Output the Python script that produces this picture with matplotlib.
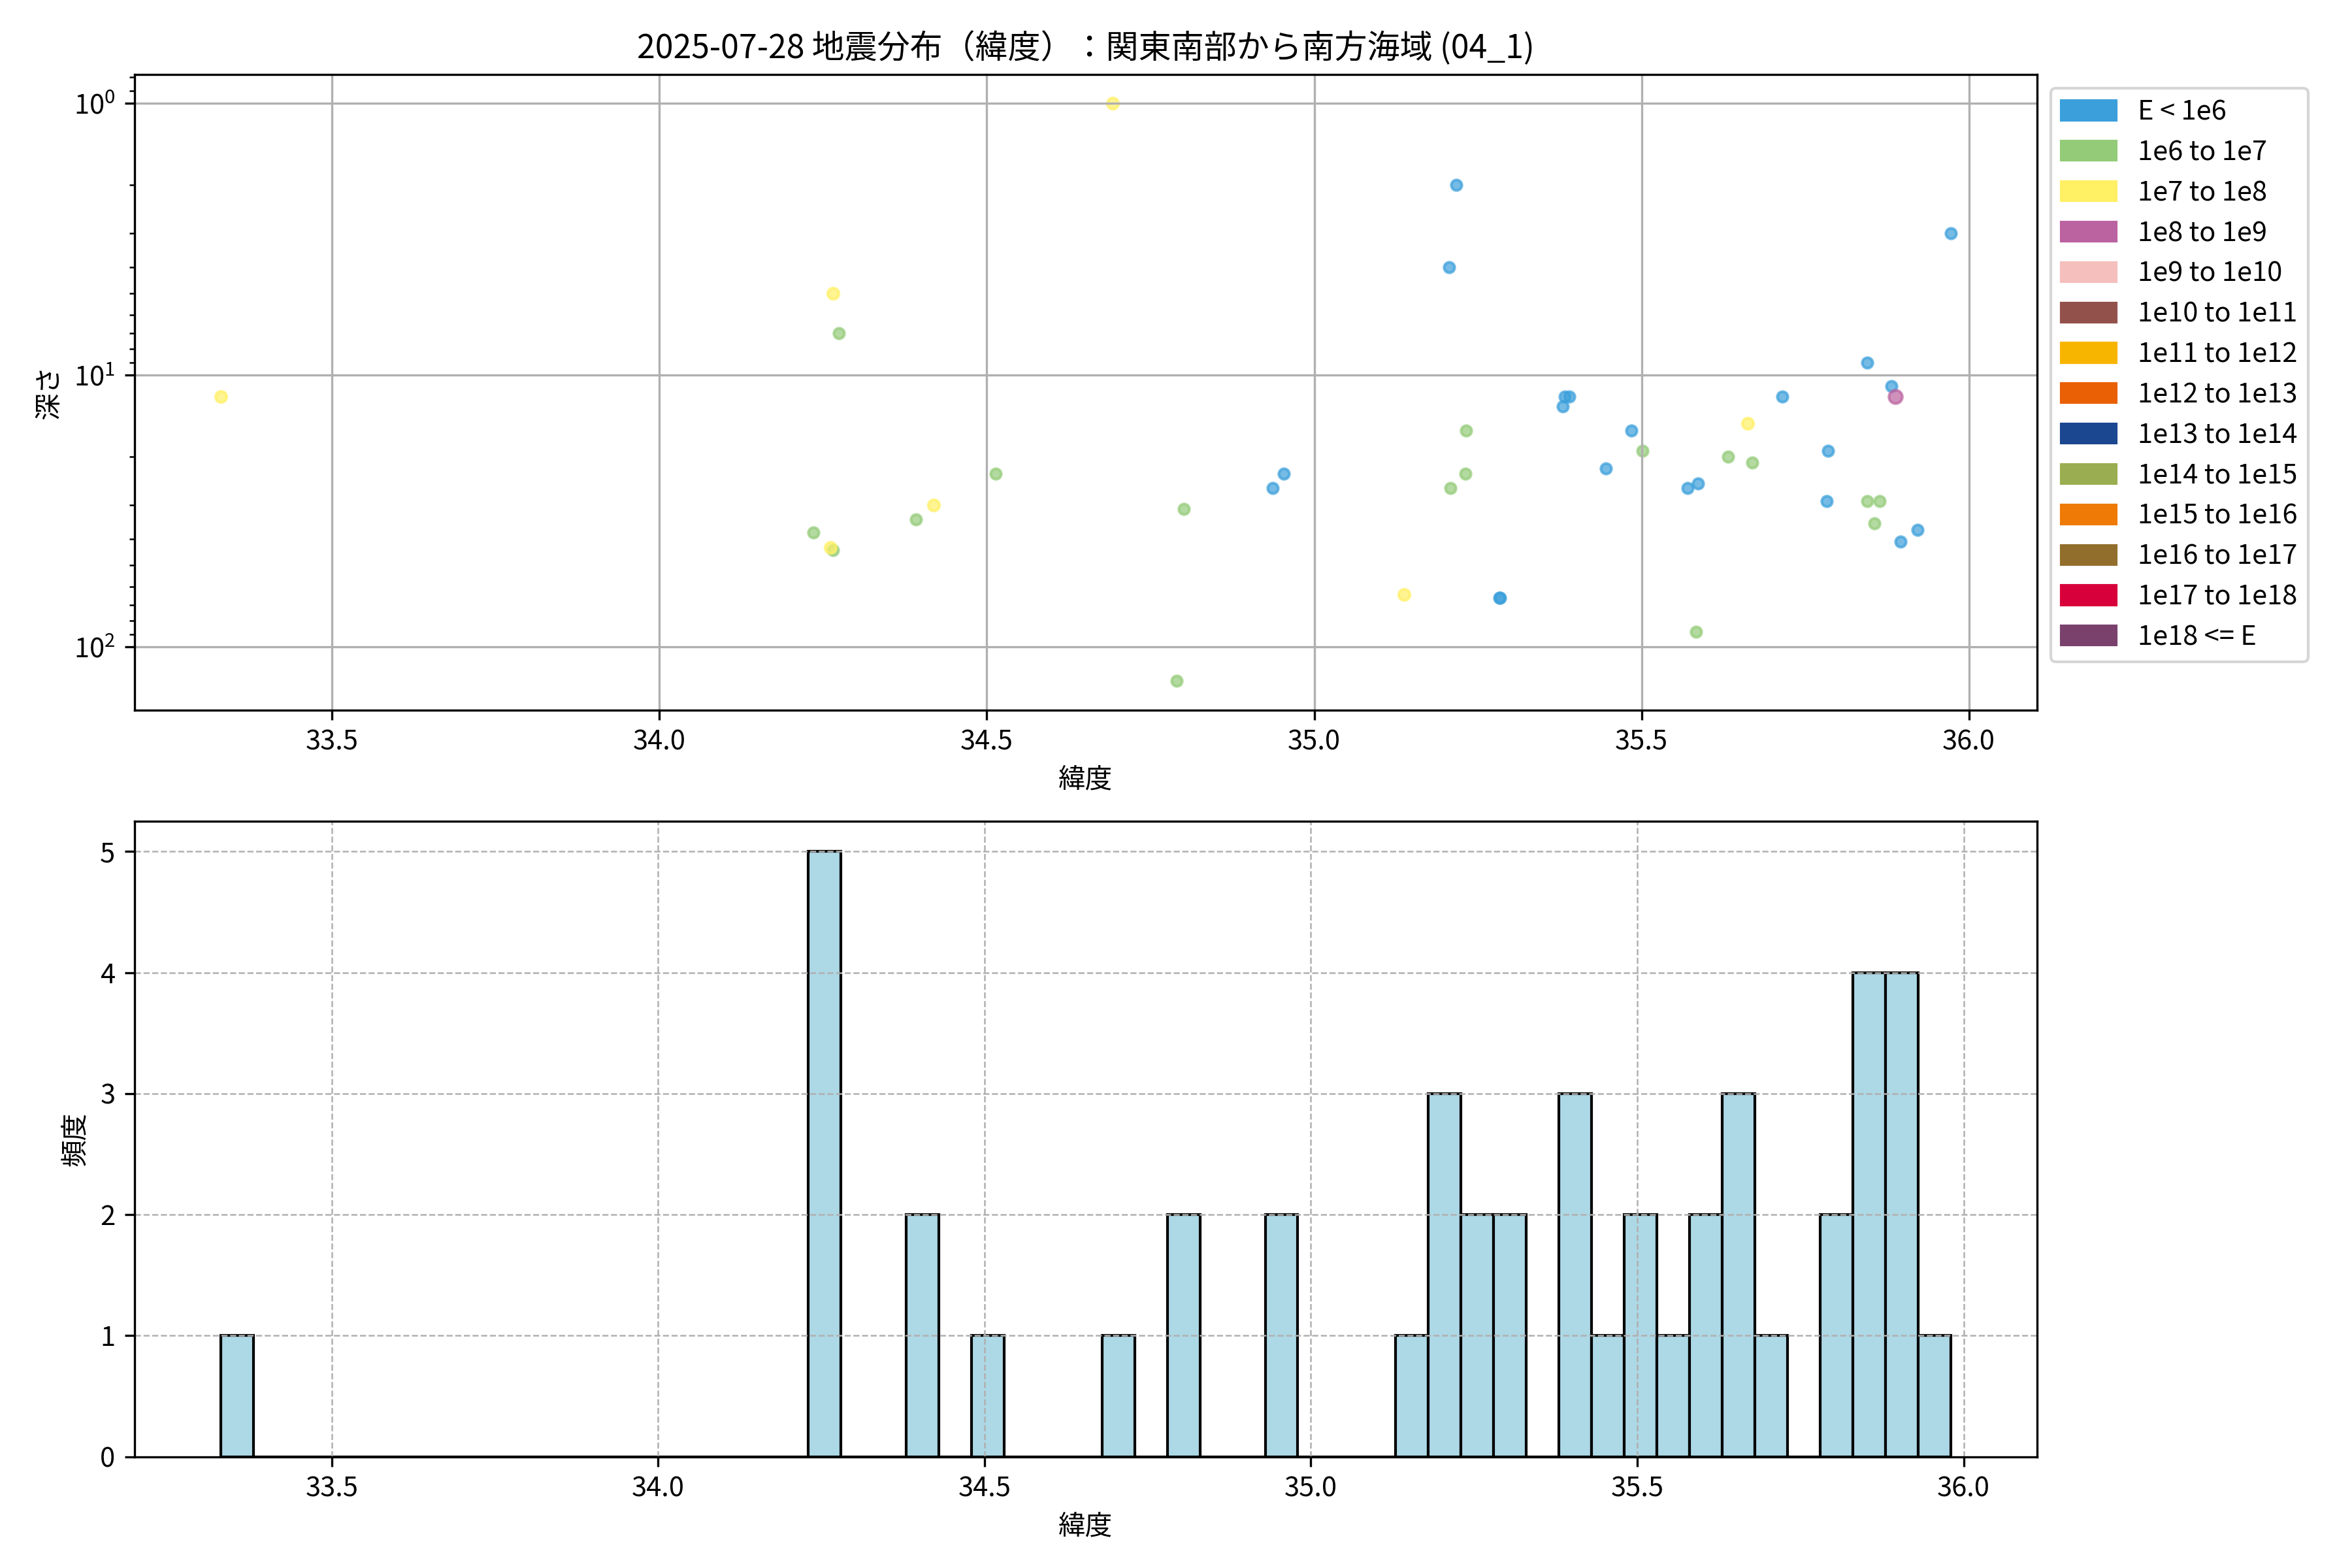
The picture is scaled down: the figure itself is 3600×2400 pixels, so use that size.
import numpy as np
import matplotlib
matplotlib.use("Agg")
from matplotlib import pyplot as plt
from matplotlib.patches import Patch

plt.rcParams['font.family'] = ['Noto Sans CJK JP', 'DejaVu Sans']
plt.rcParams['font.size'] = 10

# energy classes and colours
class_labels = ["E < 1e6", "1e6 to 1e7", "1e7 to 1e8", "1e8 to 1e9", "1e9 to 1e10",
                "1e10 to 1e11", "1e11 to 1e12", "1e12 to 1e13", "1e13 to 1e14",
                "1e14 to 1e15", "1e15 to 1e16", "1e16 to 1e17", "1e17 to 1e18", "1e18 <= E"]
class_colors = ["#3a9fdb", "#93cb78", "#fff064", "#bb62a0", "#f5bfbd", "#93514c", "#f7b500",
                "#ea6005", "#1b4690", "#9aad50", "#ef7a06", "#926e2d", "#d8003a", "#7a416d"]

# events
lat = [33.330, 34.265, 34.274, 34.235, 34.261, 34.265, 34.692, 34.514, 34.419, 34.392,
       34.801, 34.954, 34.937, 34.790, 35.137, 35.217, 35.206, 35.972, 35.845, 35.882,
       35.888, 35.715, 35.383, 35.390, 35.380, 35.232, 35.484, 35.662, 35.501, 35.785,
       35.632, 35.669, 35.231, 35.446, 35.208, 35.570, 35.586, 35.783, 35.845, 35.864,
       35.856, 35.922, 35.896, 35.283, 35.284, 35.583]
depth = [12, 5.0, 7.0, 38, 43, 44, 1.0, 23, 30, 34,
         31, 23, 26, 133.5, 64, 2.0, 4.0, 3.0, 9.0, 11,
         12, 12, 12, 12, 13, 16, 16, 15, 19, 19,
         20, 21, 23, 22, 26, 26, 25, 29, 29, 29,
         35, 37, 41, 66, 66, 88]
eclass = [2, 2, 1, 1, 2, 1, 2, 1, 2, 1,
          1, 0, 0, 1, 2, 0, 0, 0, 0, 0,
          3, 0, 0, 0, 0, 1, 0, 2, 1, 0,
          1, 1, 1, 0, 1, 0, 0, 0, 1, 1,
          1, 0, 0, 0, 0, 1]

lat = np.array(lat)
depth = np.array(depth)
eclass = np.array(eclass)
sizes = [15, 15, 17, 24, 26, 28, 30, 32, 34, 36, 38, 40, 42, 44]

fig, (ax1, ax2) = plt.subplots(2, 1, figsize=(12, 8))
fig.subplots_adjust(left=0.0571, right=0.8661, top=0.9525, bottom=0.071, hspace=0.175)

for i in range(len(class_labels)):
    m = eclass == i
    if m.any():
        ax1.scatter(lat[m], depth[m], color=class_colors[i], s=sizes[i], alpha=0.7)
ax1.set_yscale('log')
ax1.invert_yaxis()
ax1.set_xlabel('緯度')
ax1.set_ylabel('深さ')
ax1.set_title('2025-07-28 地震分布（緯度）：関東南部から南方海域 (04_1)')
ax1.grid(True)
handles = [Patch(color=c, label=l) for c, l in zip(class_colors, class_labels)]
ax1.legend(handles=handles, loc='upper left', bbox_to_anchor=(1.0, 1.0))

bins = np.arange(lat.min(), lat.max() + 0.05, 0.05)
ax2.hist(lat, bins=bins, color='lightblue', edgecolor='black')
ax2.set_xlabel('緯度')
ax2.set_ylabel('頻度')
ax2.grid(True, linestyle='--', linewidth=0.6)

plt.savefig('out.png', dpi=300)
